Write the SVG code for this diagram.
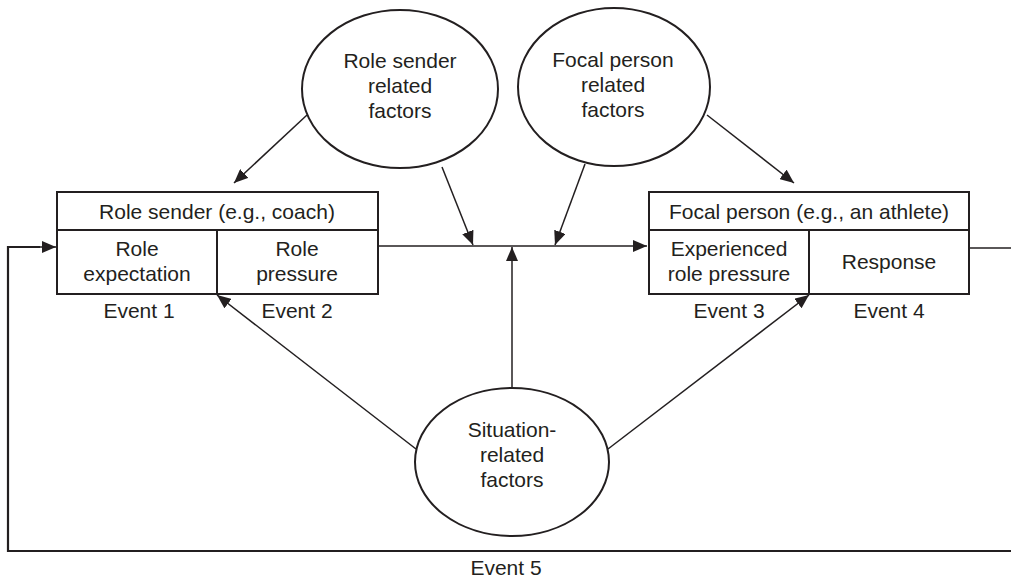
<svg xmlns="http://www.w3.org/2000/svg" width="1011" height="577" viewBox="0 0 1011 577">
<style>
text{font-family:"Liberation Sans",Arial,sans-serif;font-size:21px;fill:#231f20;text-anchor:middle}
.box{fill:none;stroke:#231f20;stroke-width:2}
.ell{fill:#fff;stroke:#231f20;stroke-width:2}
.c{fill:none;stroke:#231f20;stroke-width:1.5}
.fb{fill:none;stroke:#231f20;stroke-width:2.2}
</style>
<defs>
<marker id="ah" markerUnits="userSpaceOnUse" markerWidth="16" markerHeight="12" refX="14" refY="6" orient="auto">
<path d="M0,0 L14,6 L0,12 Z" fill="#231f20"/>
</marker>
</defs>
<rect width="1011" height="577" fill="#fff"/>
<g id="connectors">
<line class="c" x1="378" y1="246" x2="647" y2="246" marker-end="url(#ah)"/>
<line class="c" x1="442" y1="167" x2="473" y2="245" marker-end="url(#ah)"/>
<line class="c" x1="585" y1="164" x2="555" y2="245" marker-end="url(#ah)"/>
<line class="c" x1="512" y1="388" x2="512" y2="247" marker-end="url(#ah)"/>
<line class="c" x1="307" y1="115" x2="234" y2="183" marker-end="url(#ah)"/>
<line class="c" x1="707" y1="115" x2="794" y2="183" marker-end="url(#ah)"/>
<line class="c" x1="416" y1="449" x2="217" y2="295" marker-end="url(#ah)"/>
<line class="c" x1="608" y1="449" x2="809" y2="295" marker-end="url(#ah)"/>
<line class="c" x1="970" y1="248" x2="1011" y2="248"/>
<polyline class="fb" points="1011,551 8,551 8,247 40,247"/>
<line class="c" x1="38" y1="247" x2="56" y2="247" marker-end="url(#ah)"/>
<text x="506" y="575">Event 5</text>
</g>
<g id="role-sender">
<rect class="box" x="57" y="192" width="321" height="102"/>
<line class="box" x1="57" y1="230" x2="378" y2="230"/>
<line class="box" x1="217" y1="230" x2="217" y2="294"/>
<text x="217" y="219">Role sender (e.g., coach)</text>
<text x="137" y="256">Role</text>
<text x="137" y="281">expectation</text>
<text x="297" y="256">Role</text>
<text x="297" y="281">pressure</text>
<text x="139" y="318">Event 1</text>
<text x="297" y="318">Event 2</text>
</g>
<g id="focal-person">
<rect class="box" x="649" y="192" width="320" height="102"/>
<line class="box" x1="649" y1="230" x2="969" y2="230"/>
<line class="box" x1="809" y1="230" x2="809" y2="294"/>
<text x="809" y="219">Focal person (e.g., an athlete)</text>
<text x="729" y="256">Experienced</text>
<text x="729" y="281">role pressure</text>
<text x="889" y="269">Response</text>
<text x="729" y="318">Event 3</text>
<text x="889" y="318">Event 4</text>
</g>
<g id="role-sender-factors">
<ellipse class="ell" cx="400" cy="89" rx="98" ry="79"/>
<text x="400" y="68">Role sender</text>
<text x="400" y="93">related</text>
<text x="400" y="118">factors</text>
</g>
<g id="focal-person-factors">
<ellipse class="ell" cx="614" cy="87" rx="96" ry="79"/>
<text x="613" y="67">Focal person</text>
<text x="613" y="92">related</text>
<text x="613" y="117">factors</text>
</g>
<g id="situation-factors">
<ellipse class="ell" cx="512" cy="462" rx="97" ry="74"/>
<text x="512" y="437">Situation-</text>
<text x="512" y="462">related</text>
<text x="512" y="487">factors</text>
</g>
</svg>
